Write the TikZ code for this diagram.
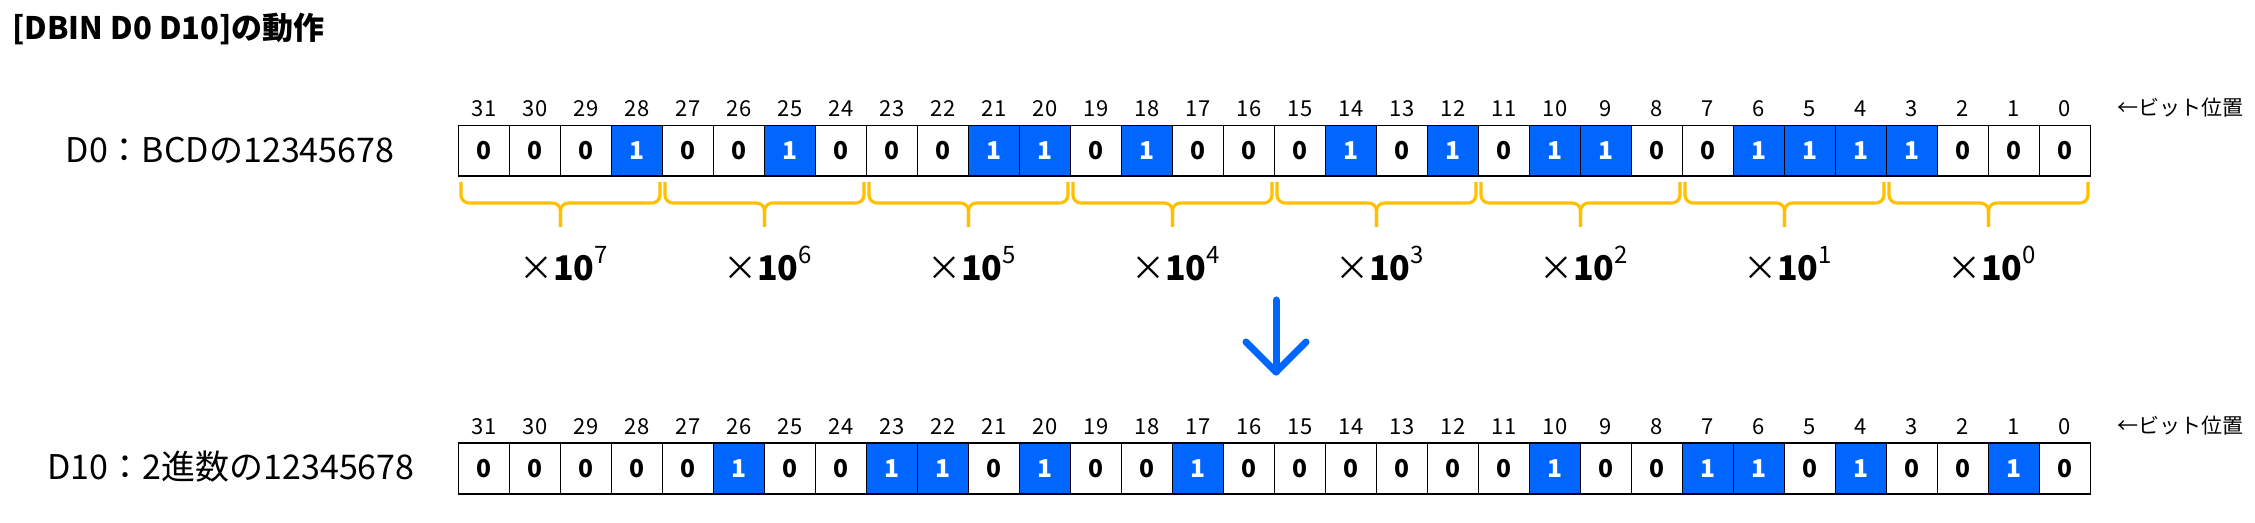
\documentclass[tikz,border=0pt]{standalone}
\usepackage{fontspec}
\setmainfont{Noto Sans CJK JP}
\definecolor{bitblue}{RGB}{0,102,255}
\definecolor{braceor}{RGB}{255,192,0}
\begin{document}
\begin{tikzpicture}[x=0.5pt,y=-0.5pt,
  cellbase/.style={draw=black, line width=0.6pt, minimum width=25.5pt, minimum height=25.4pt,
     inner sep=0pt, outer sep=0pt, anchor=north west, font=\fontsize{12.3}{14}\selectfont\bfseries},
  bit0/.style={cellbase, fill=white, text=black},
  bit1/.style={cellbase, fill=bitblue, text=white},
  bitnum/.style={font=\fontsize{11}{13}\selectfont, inner sep=0pt},
  rowlabel/.style={font=\fontsize{17}{20}\selectfont, inner sep=0pt},
  poslabel/.style={font=\fontsize{10.5}{12}\selectfont, inner sep=0pt, anchor=west},
  bracestyle/.style={draw=braceor, line width=1.6pt, rounded corners=4pt, line join=round},
  multlabel/.style={font=\fontsize{17}{20}\selectfont, inner sep=0pt, anchor=base},
  arrowline/.style={draw=bitblue, line width=3.5pt, line cap=round, line join=round}]
\useasboundingbox (0,0) rectangle (2255,523);

% title
\node[anchor=west, inner sep=0pt, font=\fontsize{15.5}{18}\selectfont\bfseries] (title) at (12,29) {[DBIN D0 D10]の動作};

% row labels
\node[rowlabel] (lab0) at (230,150) {D0：BCDの12345678};
\node[rowlabel] (lab10) at (231,467) {D10：2進数の12345678};

% top row
\foreach \v [count=\i from 0] in {0,0,0,1,0,0,1,0,0,0,1,1,0,1,0,0,0,1,0,1,0,1,1,0,0,1,1,1,1,0,0,0} {
  \pgfmathtruncatemacro\b{31-\i}
  \node[bit\v] (t\b) at (458.5+51*\i,125.5) {\v};
  \node[bitnum] (tn\b) at (484+51*\i,109) {\b};
}
\draw[line width=0.9pt] (t31.north west) rectangle (t0.south east);
\node[poslabel] (tpos) at (2117,108) {←ビット位置};

% bottom row
\foreach \v [count=\i from 0] in {0,0,0,0,0,1,0,0,1,1,0,1,0,0,1,0,0,0,0,0,0,1,0,0,1,1,0,1,0,0,1,0} {
  \pgfmathtruncatemacro\b{31-\i}
  \node[bit\v] (b\b) at (458.5+51*\i,443.3) {\v};
  \node[bitnum] (bn\b) at (484+51*\i,427) {\b};
}
\draw[line width=0.9pt] (b31.north west) rectangle (b0.south east);
\node[poslabel] (bpos) at (2117,426) {←ビット位置};

% braces and multipliers
\foreach \k/\e in {0/7,1/6,2/5,3/4,4/3,5/2,6/1,7/0} {
  \pgfmathsetmacro\L{458.5+204*\k+2.5}
  \pgfmathsetmacro\R{458.5+204*(\k+1)-2.5}
  \pgfmathsetmacro\C{458.5+204*\k+102}
  \draw[bracestyle] (\L,182) -- (\L,203) -- (\C,203) -- (\C,227);
  \draw[bracestyle] (\R,182) -- (\R,203) -- (\C,203) -- (\C,227);
  \node[multlabel] (m\k) at (\C+3,281) {×\textbf{10}\raisebox{8.5pt}{\fontsize{12}{14}\selectfont\e}};
}

% arrow
\coordinate (arrtop) at (1276,300);
\coordinate (arrtip) at (1276,372);
\coordinate (arrl) at (1246,342);
\coordinate (arrr) at (1306,342);
\draw[arrowline] (arrtop) -- (arrtip);
\draw[arrowline] (arrl) -- (arrtip) -- (arrr);
\end{tikzpicture}
\end{document}
